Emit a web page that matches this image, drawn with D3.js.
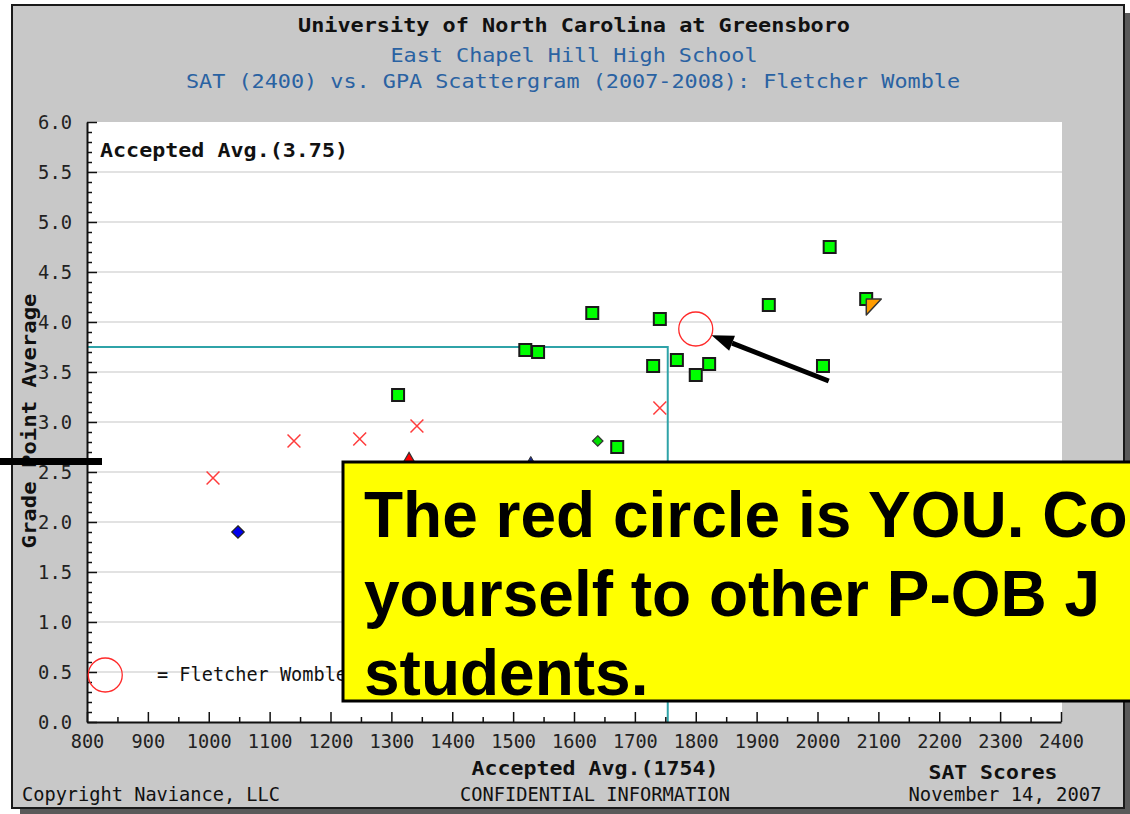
<!DOCTYPE html>
<html><head><meta charset="utf-8">
<script src="https://cdn.jsdelivr.net/npm/d3@7"></script>
<style>body{margin:0;background:#fff}svg{display:block}</style>
</head><body><svg id="c" width="1130" height="814"></svg>
<script>
// ---- data ----
const acceptedSAT = [2020, 1920, 2080, 1630, 1741, 1520, 1541, 1730, 1769, 1822, 1800, 2009, 1311, 1671];
const acceptedGPA = [4.75, 4.17, 4.23, 4.09, 4.03, 3.72, 3.70, 3.56, 3.62, 3.58, 3.47, 3.56, 3.27, 2.75];
const deniedSAT = [1007, 1140, 1248, 1342, 1741];
const deniedGPA = [2.44, 2.81, 2.83, 2.96, 3.14];
const greenDiamondSAT = [1639];
const greenDiamondGPA = [2.81];
const blueDiamondSAT = [1048];
const blueDiamondGPA = [1.90];
const redTriangleSAT = [1329];
const redTriangleGPA = [2.60];
const navyTriangleSAT = [1529];
const navyTriangleGPA = [2.60];
const orangeTriangleSAT = [2090];
const orangeTriangleGPA = [4.17];
const studentSAT = [1800];
const studentGPA = [3.93];
const avgSAT = 1754;
const avgGPA = 3.75;
const xTickValues = d3.range(800, 2401, 100);
const xMinorValues = d3.range(850, 2400, 100);
const yTickValues = d3.range(0, 6.01, 0.5);
const yMinorValues = d3.range(0, 61, 1).filter(v => v % 5 !== 0).map(v => v / 10);
const titleLines = ["University of North Carolina at Greensboro", "East Chapel Hill High School", "SAT (2400) vs. GPA Scattergram (2007-2008): Fletcher Womble"];
const calloutLines = ["The red circle is YOU. Co", "yourself to other P-OB J", "students."];

const svg = d3.select("#c");
const MONO = "'DejaVu Sans Mono', 'Liberation Mono', monospace";

// panel with shadow
svg.append("rect").attr("x", 20).attr("y", 13).attr("width", 1110).attr("height", 801).attr("fill", "#5a5a5a");
svg.append("rect").attr("x", 12).attr("y", 5).attr("width", 1112).attr("height", 803)
  .attr("fill", "#c8c8c8").attr("stroke", "#1a1a1a").attr("stroke-width", 2);

const x = d3.scaleLinear().domain([800, 2400]).range([87, 1061]);
const y = d3.scaleLinear().domain([0, 6]).range([722, 122]);

// plot background
svg.append("rect").attr("x", x(800)).attr("y", y(6)).attr("width", x(2400) - x(800) + 1).attr("height", y(0) - y(6)).attr("fill", "#fff");

// gridlines
svg.append("g").selectAll("line").data(yTickValues.filter(v => v > 0 && v < 6)).join("line")
  .attr("x1", x(800)).attr("x2", x(2400) + 1).attr("y1", d => y(d)).attr("y2", d => y(d))
  .attr("stroke", "#e2e2e2").attr("stroke-width", 2);

function txt(g, str, px, py, o) {
  o = o || {};
  const t = g.append("text").attr("x", px).attr("y", py).text(str)
    .attr("font-family", o.family || MONO).attr("font-size", o.size || 19)
    .attr("font-weight", o.weight || "normal").attr("fill", o.fill || "#111")
    .attr("text-anchor", o.anchor || "start");
  if (o.len) t.attr("textLength", o.len).attr("lengthAdjust", "spacingAndGlyphs");
  return t;
}

// titles
txt(svg, titleLines[0], 574, 32, {weight: "bold", size: 20, anchor: "middle", len: 552, fill: "#111"});
txt(svg, titleLines[1], 574, 62, {size: 20, anchor: "middle", len: 367, fill: "#2a62a2"});
txt(svg, titleLines[2], 573, 88, {size: 20, anchor: "middle", len: 774, fill: "#2a62a2"});

// reference lines (accepted averages)
svg.append("path")
  .attr("d", `M${x(800)},${y(avgGPA)}H${x(avgSAT)}V${y(0)}`)
  .attr("fill", "none").attr("stroke", "#2fa3a8").attr("stroke-width", 2);

// axes
const xAxis = svg.append("g").attr("transform", `translate(0,${y(0)})`)
  .call(d3.axisBottom(x).tickValues(xTickValues).tickSizeInner(-10).tickSizeOuter(0).tickPadding(13).tickFormat(d3.format("d")));
svg.append("g").attr("transform", `translate(0,${y(0)})`)
  .call(d3.axisBottom(x).tickValues(xMinorValues).tickSizeInner(-5).tickSizeOuter(0).tickFormat(""))
  .select(".domain").remove();
const yAxis = svg.append("g").attr("transform", `translate(${x(800)},0)`)
  .call(d3.axisLeft(y).tickValues(yTickValues).tickSizeInner(-10).tickSizeOuter(0).tickPadding(15).tickFormat(d3.format(".1f")));
svg.append("g").attr("transform", `translate(${x(800)},0)`)
  .call(d3.axisLeft(y).tickValues(yMinorValues).tickSizeInner(-5).tickSizeOuter(0).tickFormat(""))
  .select(".domain").remove();
svg.selectAll(".domain").attr("stroke", "#111").attr("stroke-width", 2);
svg.selectAll(".tick line").attr("stroke", "#111").attr("stroke-width", 1.5);
xAxis.selectAll(".tick text").attr("font-family", MONO).attr("font-size", 19).attr("fill", "#222")
  .attr("textLength", function () { return this.textContent.length * 11.2; }).attr("lengthAdjust", "spacingAndGlyphs")
  .attr("dy", "0.71em");
yAxis.selectAll(".tick text").attr("font-family", MONO).attr("font-size", 19).attr("fill", "#222")
  .attr("textLength", function () { return this.textContent.length * 11.3; }).attr("lengthAdjust", "spacingAndGlyphs");

// axis captions
txt(svg, "Accepted Avg.(3.75)", 100, 157, {weight: "bold", size: 20, len: 248});
txt(svg, "Accepted Avg.(1754)", 595, 775, {weight: "bold", size: 20, anchor: "middle", len: 247});
txt(svg, "SAT Scores", 993, 779, {weight: "bold", size: 20, anchor: "middle", len: 129});
txt(svg, "CONFIDENTIAL INFORMATION", 595, 801, {size: 19, anchor: "middle", len: 270});
txt(svg, "November 14, 2007", 1005, 801, {size: 19, anchor: "middle", len: 193});
txt(svg, "Copyright Naviance, LLC", 22, 801, {size: 19, len: 258});
txt(svg, "Grade Point Average", 0, 0, {weight: "bold", size: 20, anchor: "middle", len: 255})
  .attr("transform", "translate(36,421) rotate(-90)");

// markers
const pts = (a, b) => a.map((v, i) => [v, b[i]]);
const gMarks = svg.append("g");
gMarks.selectAll(".acc").data(pts(acceptedSAT, acceptedGPA)).join("rect")
  .attr("x", d => x(d[0]) - 6).attr("y", d => y(d[1]) - 6).attr("width", 12).attr("height", 12)
  .attr("fill", "#00ff00").attr("stroke", "#1a1a1a").attr("stroke-width", 2);
const xSym = d3.symbol().type(d3.symbolX).size(110);
gMarks.selectAll(".den").data(pts(deniedSAT, deniedGPA)).join("path")
  .attr("d", xSym).attr("transform", d => `translate(${x(d[0])},${y(d[1])})`)
  .attr("fill", "none").attr("stroke", "#ff3b3b").attr("stroke-width", 1.5);
const dia = (s) => d3.symbol().type(d3.symbolDiamond2).size(s);
gMarks.selectAll(".gd").data(pts(greenDiamondSAT, greenDiamondGPA)).join("path")
  .attr("d", dia(70)).attr("transform", d => `translate(${x(d[0])},${y(d[1])})`)
  .attr("fill", "#00dd00").attr("stroke", "#333").attr("stroke-width", 1.2);
gMarks.selectAll(".bd").data(pts(blueDiamondSAT, blueDiamondGPA)).join("path")
  .attr("d", dia(100)).attr("transform", d => `translate(${x(d[0])},${y(d[1])})`)
  .attr("fill", "#0000ee").attr("stroke", "#222").attr("stroke-width", 1.2);
const tri = (s) => d3.symbol().type(d3.symbolTriangle).size(s);
gMarks.selectAll(".rt").data(pts(redTriangleSAT, redTriangleGPA)).join("path")
  .attr("d", tri(120)).attr("transform", d => `translate(${x(d[0])},${y(d[1])})`)
  .attr("fill", "#ff0000").attr("stroke", "#333").attr("stroke-width", 1.2);
gMarks.selectAll(".nt").data(pts(navyTriangleSAT, navyTriangleGPA)).join("path")
  .attr("d", tri(40)).attr("transform", d => `translate(${x(d[0])},${y(d[1])})`)
  .attr("fill", "#1a2a8a").attr("stroke", "#333").attr("stroke-width", 1);
gMarks.selectAll(".ot").data(pts(orangeTriangleSAT, orangeTriangleGPA)).join("path")
  .attr("d", "M-6,-6L9,-6L-6,10Z").attr("transform", d => `translate(${x(d[0])},${y(d[1])})`)
  .attr("fill", "#ff9c00").attr("stroke", "#333").attr("stroke-width", 1.5).attr("stroke-linejoin", "round");

// student circle
const R = 17;
gMarks.selectAll(".stu").data(pts(studentSAT, studentGPA)).join("circle")
  .attr("cx", d => x(d[0])).attr("cy", d => y(d[1])).attr("r", R)
  .attr("fill", "none").attr("stroke", "#ff2a2a").attr("stroke-width", 1.3);

// legend
svg.append("circle").attr("cx", x(830)).attr("cy", y(0.47)).attr("r", R)
  .attr("fill", "none").attr("stroke", "#ff2a2a").attr("stroke-width", 1.3);
txt(svg, "= Fletcher Womble", 157, y(0.47) + 6, {size: 19, len: 190, fill: "#111"});

// arrow
const cx0 = x(studentSAT[0]), cy0 = y(studentGPA[0]);
const tail = [cx0 + 133, cy0 + 52];
const ang = Math.atan2(tail[1] - cy0, tail[0] - cx0);
const tip = [cx0 + R * Math.cos(ang), cy0 + R * Math.sin(ang)];
const L = 22, W = 8;
const base = [tip[0] + L * Math.cos(ang), tip[1] + L * Math.sin(ang)];
svg.append("line").attr("x1", base[0]).attr("y1", base[1]).attr("x2", tail[0]).attr("y2", tail[1])
  .attr("stroke", "#000").attr("stroke-width", 5);
svg.append("path").attr("d", `M${tip[0]},${tip[1]}L${base[0] - W * Math.sin(ang)},${base[1] + W * Math.cos(ang)}L${base[0] + W * Math.sin(ang)},${base[1] - W * Math.cos(ang)}Z`)
  .attr("fill", "#000");

// black bar on left
svg.append("rect").attr("x", 0).attr("y", 458).attr("width", 102).attr("height", 7).attr("fill", "#000");

// yellow callout
svg.append("rect").attr("x", 343).attr("y", 462).attr("width", 820).attr("height", 239)
  .attr("fill", "#ffff00").attr("stroke", "#000").attr("stroke-width", 3);
calloutLines.forEach((s, i) => {
  txt(svg, s, 364, 537 + i * 79, {family: "'Liberation Sans', Arial, sans-serif", weight: "bold", size: 64, fill: "#000"});
});
</script></body></html>
